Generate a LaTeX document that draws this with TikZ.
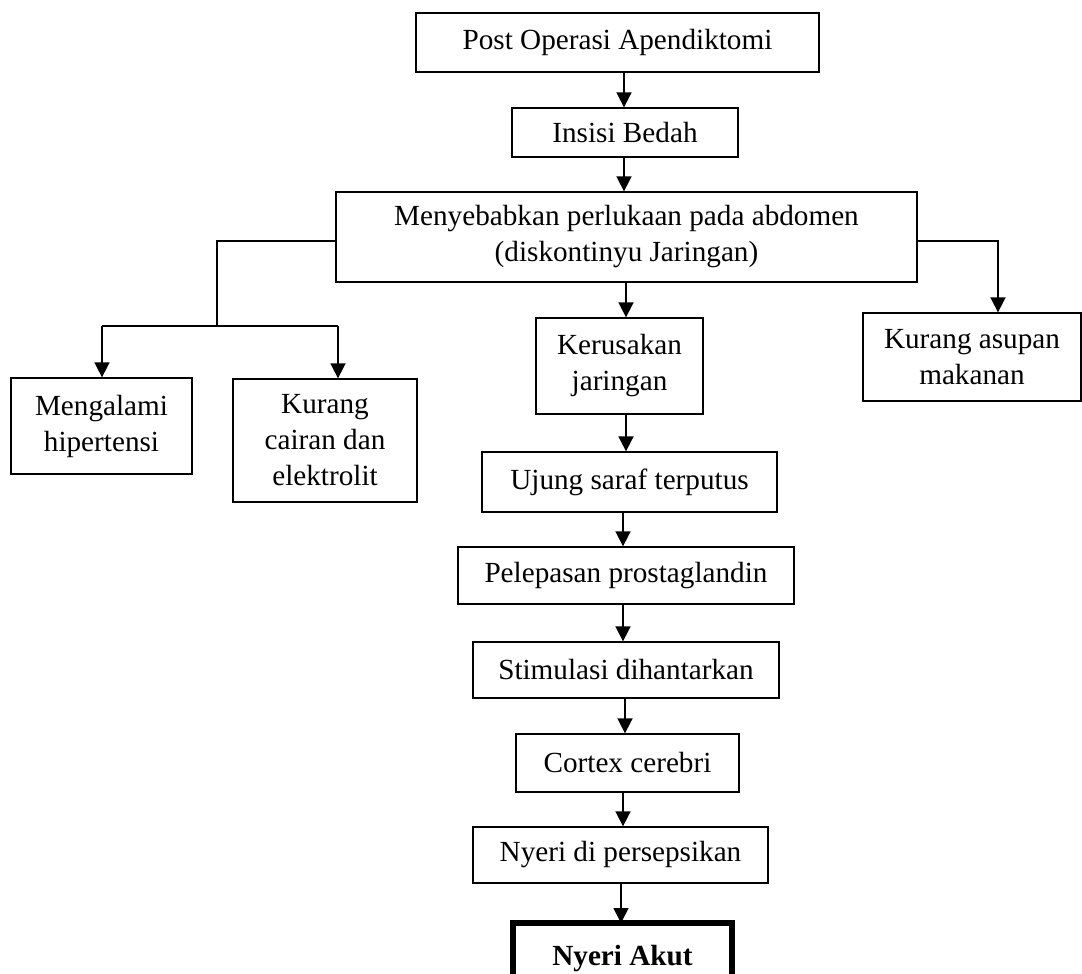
\documentclass[tikz,border=0pt]{standalone}
\usepackage{fontspec}
\setmainfont{Liberation Serif}
\usetikzlibrary{arrows.meta}
\begin{document}
\begin{tikzpicture}[x=1pt,y=-1pt,
  box/.style={draw, line width=1.3pt, inner sep=0pt, align=center,
    font=\fontsize{29.2}{36}\selectfont},
  conn/.style={line width=1.7pt},
  arr/.style={conn, -{Triangle[width=15pt,length=15pt]}}]
\useasboundingbox (0,0) rectangle (1082,974);
\clip (0,0) rectangle (1082,974);

% main column
\node[box, minimum width=403pt, minimum height=59pt] (post) at (617.5,42.5) {Post Operasi Apendiktomi};
\node[box, minimum width=226pt, minimum height=49pt] (insisi) at (625,132.5) {Insisi Bedah};
\node[box, minimum width=581pt, minimum height=90pt] (menye) at (626.5,237) {Menyebabkan perlukaan pada abdomen\\(diskontinyu Jaringan)};
\node[box, minimum width=167pt, minimum height=96pt] (rusak) at (619.5,366) {Kerusakan\\jaringan};
\node[box, minimum width=295pt, minimum height=60pt] (ujung) at (629.5,482) {Ujung saraf terputus};
\node[box, minimum width=336pt, minimum height=57pt] (lepas) at (626,575.5) {Pelepasan prostaglandin};
\node[box, minimum width=306pt, minimum height=56pt] (stim) at (626,670) {Stimulasi dihantarkan};
\node[box, minimum width=223pt, minimum height=58pt] (cortex) at (627.5,763) {Cortex cerebri};
\node[box, minimum width=295pt, minimum height=56pt] (nyeri) at (620.5,855) {Nyeri di persepsikan};
\node[box, line width=6pt, minimum width=219pt, minimum height=72pt,
  font=\fontsize{29.2}{36}\selectfont\bfseries] (akut) at (622.5,959) {Nyeri Akut};

% side boxes
\node[box, minimum width=181pt, minimum height=96pt] (hiper) at (101.5,426) {Mengalami\\hipertensi};
\node[box, minimum width=184pt, minimum height=123pt] (cairan) at (325,440.5) {Kurang\\cairan dan\\elektrolit};
\node[box, minimum width=218pt, minimum height=88pt] (asupan) at (972,357) {Kurang asupan\\makanan};

% helper coordinates
\coordinate (spine) at (624,0);
\coordinate (Ly) at (0,241);
\coordinate (lj) at (217,326);
\coordinate (lA) at (102,326);
\coordinate (lB) at (338,326);
\coordinate (rj) at (998,241);

% main arrows
\draw[arr] (post.south -| spine) -- (insisi.north -| spine);
\draw[arr] (insisi.south -| spine) -- (menye.north -| spine);
\draw[arr] (menye.south -| 626,0) -- (rusak.north -| 626,0);
\draw[arr] (rusak.south -| 626,0) -- (ujung.north -| 626,0);
\draw[arr] (ujung.south -| 623,0) -- (lepas.north -| 623,0);
\draw[arr] (lepas.south -| 623,0) -- (stim.north -| 623,0);
\draw[arr] (stim.south -| 625,0) -- (cortex.north -| 625,0);
\draw[arr] (cortex.south -| 623,0) -- (nyeri.north -| 623,0);
\draw[arr] (nyeri.south -| 621,0) -- ([yshift=-3pt]akut.north -| 621,0);

% left branch
\draw[conn] (menye.west |- Ly) -| (lj);
\draw[conn] (lA) -- (lB);
\draw[arr] (lA) -- (hiper.north -| lA);
\draw[arr] (lB) -- (cairan.north -| lB);

% right branch
\draw[arr] (menye.east |- rj) -| (asupan.north -| rj);
\end{tikzpicture}
\end{document}
